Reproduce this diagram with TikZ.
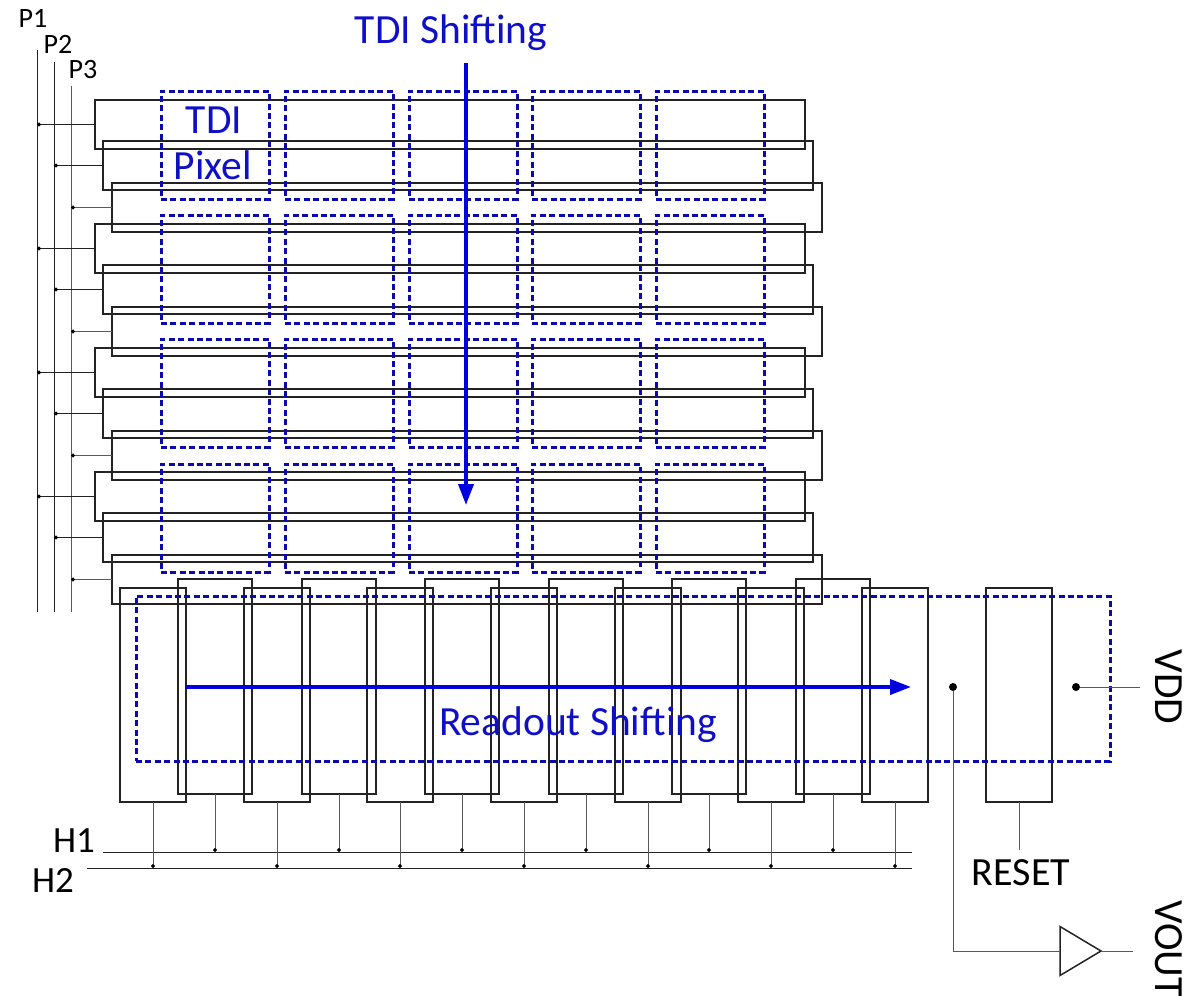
\documentclass[tikz,border=0pt]{standalone}
\usepackage{fontspec}
\setmainfont{Carlito}
\usetikzlibrary{arrows.meta,shapes.geometric}
\definecolor{dashblue}{RGB}{10,10,175}
\definecolor{txtblue}{RGB}{15,15,200}
\definecolor{arrblue}{RGB}{0,0,225}
\definecolor{ink}{RGB}{35,35,35}
\tikzset{
  box/.style={draw=ink,line width=2pt,anchor=north west,inner sep=0pt,outer sep=0pt},
  gatebox/.style={box,minimum width=710pt,minimum height=49pt},
  lowbox/.style={box,minimum width=66pt,minimum height=214pt},
  highbox/.style={box,minimum width=74pt,minimum height=215pt},
  dashbox/.style={draw=dashblue,line width=3pt,dash pattern=on 6pt off 3.4pt,anchor=north west,inner sep=0pt,outer sep=0pt},
  pixelbox/.style={dashbox,minimum width=108pt,minimum height=108pt},
  wire/.style={draw=ink,line width=1pt},
  thinwire/.style={draw=black!65,line width=1pt},
  flow/.style={draw=arrblue,line width=3.8pt,-{Triangle[length=21pt,width=15pt]}},
  tapend/.style={-{Circle[length=4pt,width=4pt,color=black]}},
  tapstart/.style={{Circle[length=4pt,width=4pt,color=black]}-},
  bluelabel/.style={text=txtblue,font=\fontsize{41.5}{41.5}\selectfont,anchor=base,inner sep=0pt},
  blacklabel/.style={text=black,font=\fontsize{40}{40}\selectfont,anchor=base,inner sep=0pt},
  smalllabel/.style={text=black,font=\fontsize{28}{28}\selectfont,anchor=base,inner sep=0pt},
  bigdot/.style={circle,fill=black,inner sep=0pt,minimum size=8pt},
}
\begin{document}
\begin{tikzpicture}[x=1pt,y=-1pt]
\useasboundingbox (0,0) rectangle (1203,996);
% phase buses
\coordinate (p1top) at (37,50);   \coordinate (p1bot) at (37,612);
\coordinate (p2top) at (54,62);   \coordinate (p2bot) at (54,612);
\coordinate (p3top) at (71,86);   \coordinate (p3bot) at (71,612);
\draw[wire] (p1top) -- (p1bot);
\draw[wire] (p2top) -- (p2bot);
\draw[thinwire] (p3top) -- (p3bot);
% TDI gates
\foreach \s in {0,1,2,3}{
  \pgfmathsetmacro{\ya}{100+124*\s}
  \pgfmathsetmacro{\yb}{141+124*\s}
  \pgfmathsetmacro{\yc}{183+124*\s}
  \node[gatebox] (A\s) at (95,\ya) {};
  \node[gatebox] (B\s) at (103,\yb) {};
  \node[gatebox] (C\s) at (112,\yc) {};
  \draw[wire,tapstart] (p1top |- A\s.west) -- (A\s.west);
  \draw[wire,tapstart] (p2top |- B\s.west) -- (B\s.west);
  \draw[thinwire,tapstart] (p3top |- C\s.west) -- (C\s.west);
}
% TDI pixels
\foreach \s in {0,1,2,3}{
  \foreach \c in {0,1,2,3,4}{
    \pgfmathsetmacro{\px}{round(161+123.8*\c)}
    \pgfmathsetmacro{\py}{round(91+124.2*\s)}
    \node[pixelbox] (pix\s\c) at (\px,\py) {};
  }
}
% readout gates
\foreach \c in {0,...,6}{
  \pgfmathsetmacro{\px}{round(120+123.7*\c)}
  \node[lowbox] (X\c) at (\px,588) {};
}
\foreach \c in {0,...,5}{
  \pgfmathsetmacro{\px}{round(178+123.6*\c)}
  \node[highbox] (Y\c) at (\px,579) {};
}
\node[lowbox] (reset) at (986,588) {};
\node[dashbox,minimum width=974pt,minimum height=165pt] (channel) at (136,596) {};
% clock lines
\coordinate (h1a) at (103,852); \coordinate (h1b) at (912,852);
\coordinate (h2a) at (87,868);  \coordinate (h2b) at (912,868);
\draw[wire] (h1a) -- (h1b);
\draw[wire] (h2a) -- (h2b);
\foreach \c in {0,...,6}{ \draw[thinwire,tapend] (X\c.south) -- (X\c.south |- h2a); }
\foreach \c in {0,...,5}{ \draw[thinwire,tapend] (Y\c.south) -- (Y\c.south |- h1a); }
% outputs
\node[bigdot] (sense) at (953,687) {};
\node[bigdot] (vddpt) at (1076,687) {};
\coordinate (vddend) at (1140,687);
\draw[thinwire] (vddpt) -- (vddend);
\node[draw=ink,line width=1.5pt,isosceles triangle,isosceles triangle stretches=true,shape border rotate=0,minimum width=49pt,minimum height=41pt,inner sep=0pt,outer sep=0pt,anchor=lower side] (buf) at (1060,951) {};
\coordinate (outend) at (1133,951);
\draw[thinwire] (sense) |- (buf.lower side);
\draw[thinwire] (buf.apex) -- (outend);
\coordinate (resetend) at (1019,850);
\draw[thinwire] (reset.south) -- (resetend);
% shifting arrows
\coordinate (tdia) at (466,63); \coordinate (tdib) at (466,505);
\coordinate (roa) at (185,687); \coordinate (rob) at (911,687);
\draw[flow] (tdia) -- (tdib);
\draw[flow] (roa) -- (rob);
% labels
\node[bluelabel] (t1) at (451,43) {TDI Shifting};
\node[bluelabel] (t2) at (214,133) {TDI};
\node[bluelabel] (t3) at (213,179) {Pixel};
\node[bluelabel] (t4) at (578,735) {Readout Shifting};
\node[smalllabel] (l1) at (33,27) {P1};
\node[smalllabel] (l2) at (58,53) {P2};
\node[smalllabel] (l3) at (83,78) {P3};
\node[blacklabel,font=\fontsize{37}{37}\selectfont] (l4) at (74,852) {H1};
\node[blacklabel,font=\fontsize{37}{37}\selectfont] (l5) at (53,892) {H2};
\node[blacklabel] (l6) at (1021,885) {RESET};
\node[blacklabel,font=\fontsize{41.5}{41.5}\selectfont,rotate=-90] (l7) at (1155,687) {VDD};
\node[blacklabel,font=\fontsize{41.5}{41.5}\selectfont,rotate=-90] (l8) at (1155,949) {VOUT};
\end{tikzpicture}
\end{document}
